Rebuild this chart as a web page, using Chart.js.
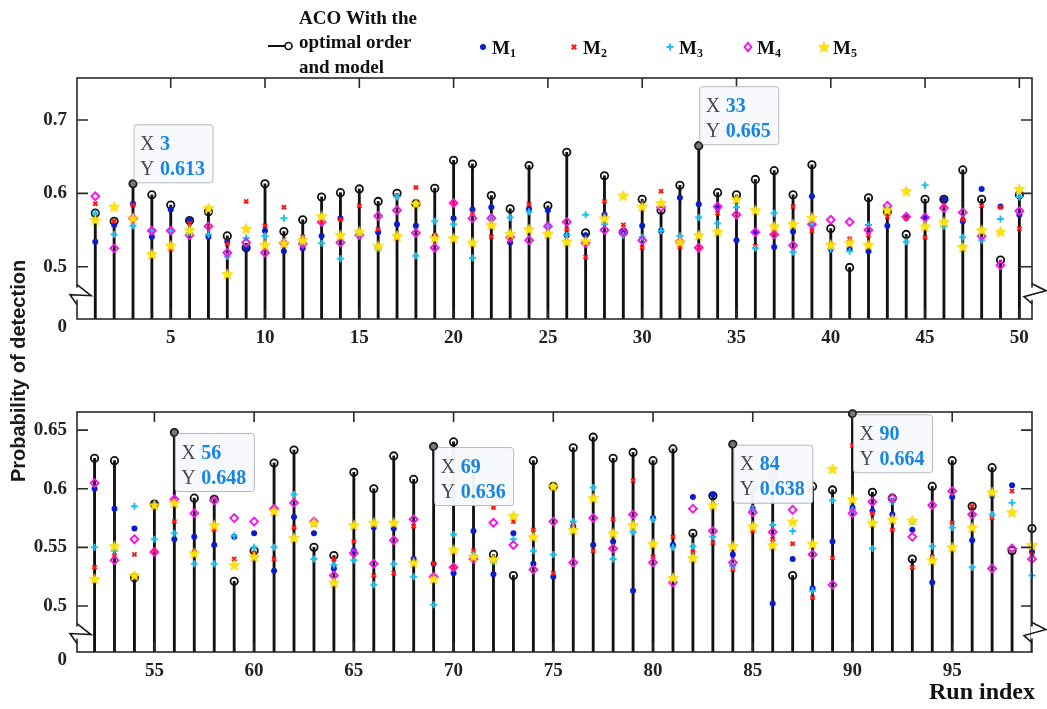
<!DOCTYPE html>
<html><head><meta charset="utf-8">
<script src="https://cdn.jsdelivr.net/npm/chart.js@4/dist/chart.umd.min.js"></script>
<style>
html,body{margin:0;padding:0;background:#fff;}
#wrap{position:relative;width:1047px;height:709px;overflow:hidden;}
canvas{position:absolute;left:0;top:0;}
</style></head><body>
<div id="wrap"><canvas id="c1" width="1047" height="709"></canvas><canvas id="c2" width="1047" height="709"></canvas></div>
<script>
// ---------------- DATA ----------------
const topRuns = [1,2,3,4,5,6,7,8,9,10,11,12,13,14,15,16,17,18,19,20,21,22,23,24,25,26,27,28,29,30,31,32,33,34,35,36,37,38,39,40,41,42,43,44,45,46,47,48,49,50];
const topACO = [0.573,0.562,0.613,0.598,0.584,0.563,0.575,0.542,0.526,0.613,0.548,0.564,0.595,0.601,0.606,0.589,0.600,0.586,0.607,0.645,0.640,0.597,0.579,0.638,0.583,0.656,0.546,0.624,0.547,0.592,0.577,0.611,0.665,0.601,0.598,0.619,0.631,0.598,0.639,0.552,0.499,0.594,0.575,0.544,0.592,0.592,0.632,0.592,0.509,0.598];
const topM1 = [0.534,0.557,0.586,0.541,0.578,0.564,0.541,0.534,0.525,0.549,0.521,0.525,0.542,0.566,0.543,0.547,0.558,0.556,0.542,0.566,0.578,0.581,0.533,0.579,0.577,0.543,0.543,0.571,0.547,0.556,0.549,0.594,0.585,0.580,0.536,0.547,0.527,0.548,0.596,0.524,0.524,0.521,0.556,0.567,0.567,0.592,0.562,0.606,0.582,0.571];
const topM2 = [0.586,0.562,0.584,0.548,0.524,0.559,0.555,0.531,0.589,0.556,0.581,0.541,0.561,0.564,0.583,0.551,0.539,0.608,0.542,0.587,0.573,0.541,0.536,0.585,0.554,0.551,0.513,0.589,0.557,0.526,0.603,0.527,0.526,0.573,0.571,0.528,0.546,0.582,0.549,0.530,0.538,0.543,0.568,0.566,0.540,0.584,0.564,0.583,0.581,0.552];
const topM3 = [0.573,0.544,0.556,0.549,0.549,0.546,0.544,0.514,0.539,0.542,0.566,0.532,0.532,0.511,0.543,0.525,0.595,0.515,0.562,0.558,0.512,0.568,0.567,0.575,0.556,0.543,0.571,0.558,0.543,0.540,0.549,0.542,0.567,0.559,0.581,0.525,0.573,0.520,0.558,0.524,0.521,0.557,0.579,0.534,0.611,0.555,0.540,0.536,0.565,0.595];
const topM4 = [0.596,0.525,0.566,0.549,0.549,0.543,0.555,0.519,0.533,0.519,0.532,0.531,0.561,0.533,0.543,0.569,0.577,0.546,0.526,0.587,0.566,0.566,0.540,0.536,0.555,0.561,0.532,0.550,0.547,0.536,0.581,0.534,0.526,0.582,0.571,0.547,0.544,0.529,0.558,0.564,0.561,0.550,0.583,0.568,0.567,0.580,0.574,0.542,0.502,0.576];
const topM5 = [0.564,0.582,0.566,0.517,0.529,0.550,0.580,0.490,0.552,0.530,0.532,0.536,0.569,0.543,0.548,0.528,0.542,0.586,0.539,0.539,0.533,0.557,0.545,0.551,0.545,0.534,0.535,0.566,0.597,0.582,0.587,0.534,0.543,0.548,0.592,0.577,0.555,0.558,0.567,0.530,0.533,0.530,0.577,0.603,0.555,0.561,0.527,0.550,0.548,0.606];

const botRuns = [52,53,54,55,56,57,58,59,60,61,62,63,64,65,66,67,68,69,70,71,72,73,74,75,76,77,78,79,80,81,82,83,84,85,86,87,88,89,90,91,92,93,94,95,96,97,98,99];
const botACO = [0.626,0.624,0.524,0.587,0.648,0.592,0.591,0.521,0.547,0.622,0.633,0.550,0.543,0.614,0.600,0.628,0.608,0.636,0.640,0.620,0.544,0.526,0.624,0.602,0.635,0.644,0.626,0.631,0.624,0.634,0.562,0.594,0.638,0.600,0.610,0.526,0.602,0.599,0.664,0.597,0.592,0.540,0.602,0.624,0.585,0.618,0.547,0.566];
const botM1 = [0.600,0.583,0.566,0.587,0.557,0.559,0.552,0.559,0.562,0.530,0.576,0.562,0.532,0.547,0.567,0.566,0.540,0.536,0.528,0.564,0.527,0.562,0.536,0.525,0.568,0.552,0.555,0.513,0.575,0.552,0.593,0.595,0.544,0.583,0.502,0.540,0.515,0.555,0.584,0.581,0.578,0.565,0.520,0.593,0.556,0.594,0.603,0.546];
const botM2 = [0.533,0.543,0.544,0.547,0.572,0.546,0.565,0.540,0.545,0.540,0.567,0.570,0.540,0.555,0.526,0.528,0.568,0.536,0.533,0.547,0.584,0.572,0.565,0.528,0.570,0.547,0.574,0.607,0.542,0.559,0.546,0.554,0.531,0.564,0.557,0.553,0.507,0.541,0.637,0.579,0.565,0.533,0.542,0.571,0.585,0.575,0.598,0.544];
const botM3 = [0.550,0.547,0.585,0.557,0.562,0.536,0.536,0.560,0.550,0.550,0.595,0.540,0.535,0.539,0.518,0.536,0.525,0.501,0.561,0.543,0.538,0.557,0.547,0.544,0.572,0.601,0.540,0.563,0.574,0.550,0.551,0.559,0.534,0.583,0.569,0.564,0.513,0.590,0.582,0.549,0.589,0.572,0.551,0.567,0.533,0.578,0.588,0.526];
const botM4 = [0.605,0.539,0.557,0.546,0.591,0.579,0.590,0.575,0.572,0.583,0.588,0.572,0.526,0.545,0.536,0.556,0.574,0.525,0.533,0.540,0.571,0.552,0.531,0.572,0.537,0.575,0.549,0.578,0.537,0.520,0.583,0.564,0.537,0.580,0.563,0.582,0.544,0.518,0.579,0.589,0.592,0.559,0.586,0.598,0.578,0.532,0.549,0.540];
const botM5 = [0.523,0.551,0.526,0.586,0.588,0.545,0.569,0.535,0.542,0.581,0.558,0.571,0.520,0.569,0.571,0.571,0.537,0.523,0.548,0.542,0.540,0.577,0.559,0.602,0.565,0.592,0.562,0.569,0.553,0.524,0.541,0.586,0.551,0.568,0.552,0.572,0.553,0.617,0.591,0.571,0.574,0.573,0.539,0.550,0.567,0.597,0.580,0.552];

// tick values and labels
const topXTicks = [5,10,15,20,25,30,35,40,45,50];
const topXTickLabels = ['5','10','15','20','25','30','35','40','45','50'];
const topYTicks = [0.5,0.6,0.7];
const topYTickLabels = ['0.5','0.6','0.7'];
const botXTicks = [55,60,65,70,75,80,85,90,95];
const botXTickLabels = ['55','60','65','70','75','80','85','90','95'];
const botYTicks = [0.5,0.55,0.6,0.65];
const botYTickLabels = ['0.5','0.55','0.6','0.65'];
const breakLabel = '0';

// data tips (run indices that are annotated)
const topTips = [3,33];
const botTips = [56,69,84,90];

// legend texts
const legendACO = ['ACO With the','optimal order','and model'];
const legendM = ['M','M','M','M','M'];
const legendSub = ['1','2','3','4','5'];
const yTitle = 'Probability of detection';
const xTitle = 'Run index';

// ---------------- STYLE ----------------
const C_STEM = '#111111';
const C_M1 = '#0a1ccc';
const C_M2 = '#ff1414';
const C_M3 = '#1cc2ee';
const C_M4 = '#f414e6';
const C_M5 = '#ffe400';
const SERIF = '"Liberation Serif", "Times New Roman", serif';
const SANS = '"Liberation Sans", Arial, sans-serif';

function starPath(g, cx, cy, R, r) {
  g.beginPath();
  for (let i = 0; i < 10; i++) {
    const ang = -Math.PI / 2 + i * Math.PI / 5;
    const rr = (i % 2) ? r : R;
    g.lineTo(cx + rr * Math.cos(ang), cy + rr * Math.sin(ang));
  }
  g.closePath();
}
function starImage(R) {
  const c = document.createElement('canvas');
  const s = Math.ceil(R * 2 + 2);
  c.width = s; c.height = s;
  const g = c.getContext('2d');
  starPath(g, s / 2, s / 2 + 0.5, R, R * 0.45);
  g.fillStyle = C_M5; g.fill();
  g.strokeStyle = '#f0cc00'; g.lineWidth = 0.6; g.stroke();
  return c;
}
const STAR = starImage(5.8);

function pts(runs, vals) { return runs.map((r, i) => ({ x: r, y: vals[i] })); }

function drawMarker(ctx, kind, x, y) {
  ctx.save();
  if (kind === 1) { ctx.fillStyle = C_M1; ctx.beginPath(); ctx.arc(x, y, 3, 0, Math.PI * 2); ctx.fill(); }
  if (kind === 2) { ctx.strokeStyle = C_M2; ctx.lineWidth = 2; ctx.beginPath(); ctx.moveTo(x - 2.2, y - 2.2); ctx.lineTo(x + 2.2, y + 2.2); ctx.moveTo(x + 2.2, y - 2.2); ctx.lineTo(x - 2.2, y + 2.2); ctx.stroke(); }
  if (kind === 3) { ctx.strokeStyle = C_M3; ctx.lineWidth = 2; ctx.beginPath(); ctx.moveTo(x - 3.4, y); ctx.lineTo(x + 3.4, y); ctx.moveTo(x, y - 3.4); ctx.lineTo(x, y + 3.4); ctx.stroke(); }
  if (kind === 4) { ctx.strokeStyle = C_M4; ctx.lineWidth = 1.9; ctx.beginPath(); ctx.moveTo(x, y - 4.2); ctx.lineTo(x + 3.4, y); ctx.lineTo(x, y + 4.2); ctx.lineTo(x - 3.4, y); ctx.closePath(); ctx.stroke(); }
  if (kind === 5) { ctx.drawImage(STAR, x - STAR.width / 2, y - STAR.height / 2); }
  ctx.restore();
}

const decor = {
  id: 'decor',
  afterDatasetsDraw(chart, args, o) {
    const ctx = chart.ctx, a = chart.chartArea, xs = chart.scales.x, ys = chart.scales.y;
    ctx.save();
    // frame
    ctx.strokeStyle = '#2a2a2a'; ctx.lineWidth = 1.6;
    ctx.strokeRect(a.left, a.top, a.right - a.left, a.bottom - a.top);
    // inward ticks
    ctx.beginPath();
    o.xTicks.forEach(v => { const p = xs.getPixelForValue(v); ctx.moveTo(p, a.top); ctx.lineTo(p, a.top + 10); ctx.moveTo(p, a.bottom); ctx.lineTo(p, a.bottom - 10); });
    o.yTicks.forEach(v => { const p = ys.getPixelForValue(v); ctx.moveTo(a.left, p); ctx.lineTo(a.left + 11, p); ctx.moveTo(a.right, p); ctx.lineTo(a.right - 11, p); });
    ctx.stroke();
    // axis break marks
    const by = ys.getPixelForValue(o.breakAt);
    ctx.lineWidth = 1.6; ctx.strokeStyle = '#1a1a1a';
    ctx.fillStyle = '#fff';
    ctx.fillRect(a.left - 1, by - 8, 3, 12);
    ctx.fillRect(a.right - 1, by - 8, 3, 12);
    ctx.beginPath();
    ctx.moveTo(a.left, by - 11); ctx.lineTo(a.left + 14, by); ctx.lineTo(a.left - 7, by - 1); ctx.lineTo(a.left, by + 9);
    ctx.moveTo(a.right, by - 12); ctx.lineTo(a.right + 14, by - 5); ctx.lineTo(a.right - 8, by + 1); ctx.lineTo(a.right, by + 8);
    ctx.stroke();
    // "0" label below the break
    ctx.fillStyle = '#222'; ctx.font = 'bold 19px ' + SERIF;
    ctx.textAlign = 'right'; ctx.textBaseline = 'middle';
    ctx.fillText(breakLabel, a.left - 10, a.bottom + 8);
    // data tips
    o.tips.forEach(run => {
      const i = o.runs.indexOf(run); const v = o.aco[i];
      const px = xs.getPixelForValue(run), py = ys.getPixelForValue(v);
      const w = 79, h = 58;
      const bx = px + 1, byy = o.tipAbove ? py - h - 1 : py + 1;
      ctx.beginPath();
      if (ctx.roundRect) ctx.roundRect(bx, byy, w, h, 3); else ctx.rect(bx, byy, w, h);
      ctx.fillStyle = 'rgba(248,249,253,0.96)'; ctx.fill();
      ctx.strokeStyle = '#b8b8c2'; ctx.lineWidth = 1; ctx.stroke();
      ctx.textAlign = 'left'; ctx.textBaseline = 'alphabetic';
      ctx.font = '20px ' + SERIF; ctx.fillStyle = '#4a4a4a';
      ctx.fillText('X', bx + 6, byy + 25);
      ctx.fillText('Y', bx + 6, byy + 50);
      ctx.font = 'bold 20px ' + SERIF; ctx.fillStyle = '#1585e6';
      ctx.fillText(String(run), bx + 26, byy + 25);
      ctx.fillText(v.toFixed(3), bx + 26, byy + 50);
      ctx.beginPath(); ctx.arc(px, py, 3.4, 0, Math.PI * 2);
      ctx.fillStyle = '#777'; ctx.fill(); ctx.strokeStyle = '#222'; ctx.lineWidth = 1.3; ctx.stroke();
    });
    if (o.legend) {
      // ACO item
      ctx.strokeStyle = '#111'; ctx.lineWidth = 2;
      ctx.beginPath(); ctx.moveTo(268, 46); ctx.lineTo(285, 46); ctx.stroke();
      ctx.lineWidth = 1.7; ctx.beginPath(); ctx.arc(288.5, 46, 3.5, 0, Math.PI * 2); ctx.stroke();
      ctx.fillStyle = '#111'; ctx.font = 'bold 19px ' + SERIF; ctx.textAlign = 'left'; ctx.textBaseline = 'middle';
      legendACO.forEach((t, k) => ctx.fillText(t, 299, 19 + k * 24.5));
      const mx = [483, 574, 670, 748, 824];
      mx.forEach((x, k) => {
        drawMarker(ctx, k + 1, x, 47);
        ctx.fillStyle = '#111'; ctx.textBaseline = 'alphabetic';
        ctx.font = 'bold 19px ' + SERIF;
        ctx.fillText(legendM[k], x + 9, 54);
        const wM = ctx.measureText(legendM[k]).width;
        ctx.font = 'bold 12px ' + SERIF;
        ctx.fillText(legendSub[k], x + 9 + wM, 57);
      });
      // y axis title
      ctx.save();
      ctx.translate(19, 371); ctx.rotate(-Math.PI / 2);
      ctx.font = 'bold 20px ' + SANS; ctx.fillStyle = '#1a1a1a';
      ctx.textAlign = 'center'; ctx.textBaseline = 'middle';
      ctx.fillText(yTitle, 0, 0);
      ctx.restore();
    }
    if (o.xTitle) {
      ctx.font = 'bold 24px ' + SERIF; ctx.fillStyle = '#111';
      ctx.textAlign = 'right'; ctx.textBaseline = 'middle';
      ctx.fillText(xTitle, 1035, 693);
    }
    ctx.restore();
  }
};

function makeChart(id, p) {
  const tickFont = { family: SERIF, weight: 'bold', size: 19 };
  return new Chart(document.getElementById(id), {
    type: 'scatter',
    data: {
      datasets: [
        { type: 'bar', data: pts(p.runs, p.aco), base: p.yMin, backgroundColor: C_STEM, borderWidth: 0, barThickness: 2.2, order: 10 },
        { type: 'scatter', data: pts(p.runs, p.aco), pointStyle: 'circle', radius: 3.7, borderColor: '#111', borderWidth: 1.8, backgroundColor: 'rgba(0,0,0,0)', order: 9, clip: false },
        { type: 'scatter', data: pts(p.runs, p.m1), pointStyle: 'circle', radius: 3, backgroundColor: C_M1, borderColor: C_M1, borderWidth: 0, order: 5, clip: false },
        { type: 'scatter', data: pts(p.runs, p.m2), pointStyle: 'crossRot', radius: 2.9, borderColor: C_M2, borderWidth: 2, order: 4, clip: false },
        { type: 'scatter', data: pts(p.runs, p.m3), pointStyle: 'cross', radius: 3.5, borderColor: C_M3, borderWidth: 2, order: 3, clip: false },
        { type: 'scatter', data: pts(p.runs, p.m4), pointStyle: 'rectRot', radius: 3.9, borderColor: C_M4, borderWidth: 1.9, backgroundColor: 'rgba(0,0,0,0)', order: 2, clip: false },
        { type: 'scatter', data: pts(p.runs, p.m5), pointStyle: STAR, order: 1, clip: false }
      ]
    },
    options: {
      responsive: false, animation: false, events: [],
      layout: { padding: p.padding },
      plugins: { legend: { display: false }, tooltip: { enabled: false }, decor: p.decor },
      scales: {
        x: {
          type: 'linear', min: p.xMin, max: p.xMax, offset: false,
          grid: { display: false, drawTicks: false }, border: { display: false },
          afterFit: s => { s.height = 30; },
          afterBuildTicks: s => { s.ticks = p.xTicks.map(v => ({ value: v })); },
          ticks: { autoSkip: false, maxRotation: 0, padding: 8, font: tickFont, color: '#222', callback: (v, i) => p.xLabels[i] }
        },
        y: {
          type: 'linear', min: p.yMin, max: p.yMax,
          grid: { display: false, drawTicks: false }, border: { display: false },
          afterFit: s => { s.width = 77; },
          afterBuildTicks: s => { s.ticks = p.yTicks.map(v => ({ value: v })); },
          ticks: { autoSkip: false, padding: 10, font: tickFont, color: '#222', callback: (v, i) => p.yLabels[i] }
        }
      }
    },
    plugins: [decor]
  });
}

makeChart('c1', {
  runs: topRuns, aco: topACO, m1: topM1, m2: topM2, m3: topM3, m4: topM4, m5: topM5,
  xMin: 0.03, xMax: 50.67, yMin: 0.4287, yMax: 0.7573,
  xTicks: topXTicks, xLabels: topXTickLabels, yTicks: topYTicks, yLabels: topYTickLabels,
  padding: { left: 0, right: 15, top: 78, bottom: 360 },
  decor: { xTicks: topXTicks, yTicks: topYTicks, breakAt: 0.4605, tips: topTips, runs: topRuns, aco: topACO, tipAbove: true, legend: true, xTitle: false }
});
makeChart('c2', {
  runs: botRuns, aco: botACO, m1: botM1, m2: botM2, m3: botM3, m4: botM4, m5: botM5,
  xMin: 51.12, xMax: 99, yMin: 0.4607, yMax: 0.6655,
  xTicks: botXTicks, xLabels: botXTickLabels, yTicks: botYTicks, yLabels: botYTickLabels,
  padding: { left: 0, right: 15, top: 412, bottom: 27 },
  decor: { xTicks: botXTicks, yTicks: botYTicks, breakAt: 0.4756, tips: botTips, runs: botRuns, aco: botACO, tipAbove: false, legend: false, xTitle: true }
});
</script>
</body></html>
